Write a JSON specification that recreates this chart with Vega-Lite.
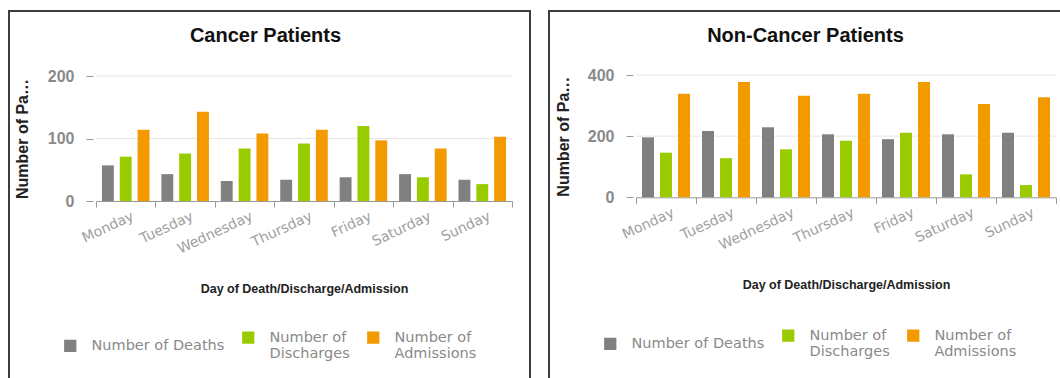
{
  "$schema": "https://vega.github.io/schema/vega-lite/v6.json",
  "background": "white",
  "padding": {"left": 8, "top": 10, "right": 0, "bottom": 0},
  "bounds": "flush",
  "spacing": 19,
  "data": {
    "values": [
      {"panel": "Cancer Patients", "day": "Monday", "measure": "Number of Deaths", "value": 57},
      {"panel": "Cancer Patients", "day": "Monday", "measure": "Number of Discharges", "value": 71},
      {"panel": "Cancer Patients", "day": "Monday", "measure": "Number of Admissions", "value": 114},
      {"panel": "Cancer Patients", "day": "Tuesday", "measure": "Number of Deaths", "value": 43},
      {"panel": "Cancer Patients", "day": "Tuesday", "measure": "Number of Discharges", "value": 76},
      {"panel": "Cancer Patients", "day": "Tuesday", "measure": "Number of Admissions", "value": 143},
      {"panel": "Cancer Patients", "day": "Wednesday", "measure": "Number of Deaths", "value": 32},
      {"panel": "Cancer Patients", "day": "Wednesday", "measure": "Number of Discharges", "value": 84},
      {"panel": "Cancer Patients", "day": "Wednesday", "measure": "Number of Admissions", "value": 108},
      {"panel": "Cancer Patients", "day": "Thursday", "measure": "Number of Deaths", "value": 34},
      {"panel": "Cancer Patients", "day": "Thursday", "measure": "Number of Discharges", "value": 92},
      {"panel": "Cancer Patients", "day": "Thursday", "measure": "Number of Admissions", "value": 114},
      {"panel": "Cancer Patients", "day": "Friday", "measure": "Number of Deaths", "value": 38},
      {"panel": "Cancer Patients", "day": "Friday", "measure": "Number of Discharges", "value": 120},
      {"panel": "Cancer Patients", "day": "Friday", "measure": "Number of Admissions", "value": 97},
      {"panel": "Cancer Patients", "day": "Saturday", "measure": "Number of Deaths", "value": 43},
      {"panel": "Cancer Patients", "day": "Saturday", "measure": "Number of Discharges", "value": 38},
      {"panel": "Cancer Patients", "day": "Saturday", "measure": "Number of Admissions", "value": 84},
      {"panel": "Cancer Patients", "day": "Sunday", "measure": "Number of Deaths", "value": 34},
      {"panel": "Cancer Patients", "day": "Sunday", "measure": "Number of Discharges", "value": 27},
      {"panel": "Cancer Patients", "day": "Sunday", "measure": "Number of Admissions", "value": 103},
      {"panel": "Non-Cancer Patients", "day": "Monday", "measure": "Number of Deaths", "value": 196},
      {"panel": "Non-Cancer Patients", "day": "Monday", "measure": "Number of Discharges", "value": 146},
      {"panel": "Non-Cancer Patients", "day": "Monday", "measure": "Number of Admissions", "value": 339},
      {"panel": "Non-Cancer Patients", "day": "Tuesday", "measure": "Number of Deaths", "value": 217},
      {"panel": "Non-Cancer Patients", "day": "Tuesday", "measure": "Number of Discharges", "value": 128},
      {"panel": "Non-Cancer Patients", "day": "Tuesday", "measure": "Number of Admissions", "value": 377},
      {"panel": "Non-Cancer Patients", "day": "Wednesday", "measure": "Number of Deaths", "value": 229},
      {"panel": "Non-Cancer Patients", "day": "Wednesday", "measure": "Number of Discharges", "value": 157},
      {"panel": "Non-Cancer Patients", "day": "Wednesday", "measure": "Number of Admissions", "value": 332},
      {"panel": "Non-Cancer Patients", "day": "Thursday", "measure": "Number of Deaths", "value": 206},
      {"panel": "Non-Cancer Patients", "day": "Thursday", "measure": "Number of Discharges", "value": 185},
      {"panel": "Non-Cancer Patients", "day": "Thursday", "measure": "Number of Admissions", "value": 339},
      {"panel": "Non-Cancer Patients", "day": "Friday", "measure": "Number of Deaths", "value": 190},
      {"panel": "Non-Cancer Patients", "day": "Friday", "measure": "Number of Discharges", "value": 211},
      {"panel": "Non-Cancer Patients", "day": "Friday", "measure": "Number of Admissions", "value": 377},
      {"panel": "Non-Cancer Patients", "day": "Saturday", "measure": "Number of Deaths", "value": 206},
      {"panel": "Non-Cancer Patients", "day": "Saturday", "measure": "Number of Discharges", "value": 75},
      {"panel": "Non-Cancer Patients", "day": "Saturday", "measure": "Number of Admissions", "value": 305},
      {"panel": "Non-Cancer Patients", "day": "Sunday", "measure": "Number of Deaths", "value": 211},
      {"panel": "Non-Cancer Patients", "day": "Sunday", "measure": "Number of Discharges", "value": 40},
      {"panel": "Non-Cancer Patients", "day": "Sunday", "measure": "Number of Admissions", "value": 327}
    ]
  },
  "hconcat": [
    {
      "width": 521,
      "height": 368,
      "title": {"text": "Cancer Patients", "font": "Liberation Sans", "fontSize": 20, "fontWeight": "bold", "color": "#111111", "anchor": "middle", "frame": "group", "baseline": "alphabetic", "offset": -51, "dx": -4},
      "layer": [
        {
          "data": {"values": [{"grid": 100}, {"grid": 200}]},
          "mark": {"type": "rule", "color": "#e6e6e6", "strokeWidth": 1},
          "encoding": {
            "x": {"datum": "Monday", "bandPosition": 0},
            "x2": {"datum": "Sunday", "bandPosition": 1},
            "y": {
              "field": "grid", "type": "quantitative",
              "axis": {"orient": "left", "offset": -84, "values": [0, 100, 200], "title": "Number of Patients", "titleFont": "Liberation Sans", "titleFontSize": 16, "titleFontWeight": "bold", "titleColor": "#222222", "titleAngle": -90, "titleX": -71, "titleBaseline": "middle", "titleLimit": 122, "labelFont": "Liberation Sans", "labelFontSize": 16, "labelFontWeight": "bold", "labelColor": "#8a8a8a", "labelPadding": 12, "tickSize": 7, "tickColor": "#999999", "domain": false, "grid": false}
            }
          }
        },
        {
          "transform": [{"filter": "datum.panel === 'Cancer Patients'"}],
          "mark": {"type": "bar"},
          "encoding": {
            "x": {
              "field": "day", "type": "nominal",
              "sort": ["Monday", "Tuesday", "Wednesday", "Thursday", "Friday", "Saturday", "Sunday"],
              "scale": {"range": [87, 503], "paddingInner": 0, "paddingOuter": 0},
              "axis": {"orient": "bottom", "offset": -178, "title": "Day of Death/Discharge/Admission", "titleFont": "Liberation Sans", "titleFontSize": 12.5, "titleFontWeight": "bold", "titleColor": "#222222", "titleY": 87, "titleBaseline": "middle", "labelAngle": -25, "labelAlign": "right", "labelBaseline": "top", "labelFont": "DejaVu Sans", "labelFontSize": 14, "labelColor": "#a0a0a0", "labelPadding": 2, "labelOffset": 4, "labelOverlap": false, "labelBound": false, "tickBand": "extent", "tickSize": 6, "tickColor": "#999999", "domainColor": "#999999", "grid": false}
            },
            "xOffset": {"field": "measure", "sort": ["Number of Deaths", "Number of Discharges", "Number of Admissions"], "scale": {"paddingInner": 0.333, "paddingOuter": 0.333}},
            "y": {
              "field": "value", "type": "quantitative",
              "scale": {"domain": [0, 200], "range": [190, 65], "nice": false},
              "axis": {"orient": "left", "offset": -84, "values": [0, 100, 200], "title": "Number of Patients", "titleFont": "Liberation Sans", "titleFontSize": 16, "titleFontWeight": "bold", "titleColor": "#222222", "titleAngle": -90, "titleX": -71, "titleBaseline": "middle", "titleLimit": 122, "labelFont": "Liberation Sans", "labelFontSize": 16, "labelFontWeight": "bold", "labelColor": "#8a8a8a", "labelPadding": 12, "tickSize": 7, "tickColor": "#999999", "domain": false, "grid": false}
            },
            "color": {
              "field": "measure", "type": "nominal",
              "scale": {"domain": ["Number of Deaths", "Number of Discharges", "Number of Admissions"], "range": ["#808080", "#99cc00", "#f39a00"]},
              "legend": {"orient": "none", "legendX": 54, "legendY": 319, "direction": "horizontal", "title": null, "padding": 0, "symbolType": "square", "symbolSize": 150, "symbolStrokeWidth": 0, "labelFont": "DejaVu Sans", "labelFontSize": 14.5, "labelColor": "#8a8a8a", "labelOffset": 14, "columnPadding": 16, "labelLimit": 300, "labelExpr": "datum.label === 'Number of Deaths' ? datum.label : ['Number of', slice(datum.label, 10)]"}
            }
          }
        }
      ]
    },
    {
      "width": 521,
      "height": 368,
      "title": {"text": "Non-Cancer Patients", "font": "Liberation Sans", "fontSize": 20, "fontWeight": "bold", "color": "#111111", "anchor": "middle", "frame": "group", "baseline": "alphabetic", "offset": -51, "dx": -4},
      "layer": [
        {
          "data": {"values": [{"grid": 200}, {"grid": 400}]},
          "mark": {"type": "rule", "color": "#e6e6e6", "strokeWidth": 1},
          "encoding": {
            "x": {"datum": "Monday", "bandPosition": 0},
            "x2": {"datum": "Sunday", "bandPosition": 1},
            "y": {
              "field": "grid", "type": "quantitative",
              "axis": {"orient": "left", "offset": -84, "values": [0, 200, 400], "title": "Number of Patients", "titleFont": "Liberation Sans", "titleFontSize": 16, "titleFontWeight": "bold", "titleColor": "#222222", "titleAngle": -90, "titleX": -70, "titleBaseline": "middle", "titleLimit": 122, "labelFont": "Liberation Sans", "labelFontSize": 16, "labelFontWeight": "bold", "labelColor": "#8a8a8a", "labelPadding": 12, "tickSize": 7, "tickColor": "#999999", "domain": false, "grid": false}
            }
          }
        },
        {
          "transform": [{"filter": "datum.panel === 'Non-Cancer Patients'"}],
          "mark": {"type": "bar"},
          "encoding": {
            "x": {
              "field": "day", "type": "nominal",
              "sort": ["Monday", "Tuesday", "Wednesday", "Thursday", "Friday", "Saturday", "Sunday"],
              "scale": {"range": [87, 507], "paddingInner": 0, "paddingOuter": 0},
              "axis": {"orient": "bottom", "offset": -181.7, "title": "Day of Death/Discharge/Admission", "titleFont": "Liberation Sans", "titleFontSize": 12.5, "titleFontWeight": "bold", "titleColor": "#222222", "titleY": 87.5, "titleBaseline": "middle", "labelAngle": -25, "labelAlign": "right", "labelBaseline": "top", "labelFont": "DejaVu Sans", "labelFontSize": 14, "labelColor": "#a0a0a0", "labelPadding": 2, "labelOffset": 4, "labelOverlap": false, "labelBound": false, "tickBand": "extent", "tickSize": 6, "tickColor": "#999999", "domainColor": "#999999", "grid": false}
            },
            "xOffset": {"field": "measure", "sort": ["Number of Deaths", "Number of Discharges", "Number of Admissions"], "scale": {"paddingInner": 0.333, "paddingOuter": 0.333}},
            "y": {
              "field": "value", "type": "quantitative",
              "scale": {"domain": [0, 400], "range": [186.3, 64], "nice": false},
              "axis": {"orient": "left", "offset": -84, "values": [0, 200, 400], "title": "Number of Patients", "titleFont": "Liberation Sans", "titleFontSize": 16, "titleFontWeight": "bold", "titleColor": "#222222", "titleAngle": -90, "titleX": -70, "titleBaseline": "middle", "titleLimit": 122, "labelFont": "Liberation Sans", "labelFontSize": 16, "labelFontWeight": "bold", "labelColor": "#8a8a8a", "labelPadding": 12, "tickSize": 7, "tickColor": "#999999", "domain": false, "grid": false}
            },
            "color": {
              "field": "measure", "type": "nominal",
              "scale": {"domain": ["Number of Deaths", "Number of Discharges", "Number of Admissions"], "range": ["#808080", "#99cc00", "#f39a00"]},
              "legend": {"orient": "none", "legendX": 54, "legendY": 317, "direction": "horizontal", "title": null, "padding": 0, "symbolType": "square", "symbolSize": 150, "symbolStrokeWidth": 0, "labelFont": "DejaVu Sans", "labelFontSize": 14.5, "labelColor": "#8a8a8a", "labelOffset": 14, "columnPadding": 16, "labelLimit": 300, "labelExpr": "datum.label === 'Number of Deaths' ? datum.label : ['Number of', slice(datum.label, 10)]"}
            }
          }
        }
      ]
    }
  ],
  "resolve": {
    "scale": {"x": "independent", "y": "independent", "xOffset": "independent", "color": "independent"},
    "legend": {"color": "independent"}
  },
  "config": {
    "view": {"stroke": "#3d3d3d", "strokeWidth": 2}
  }
}
